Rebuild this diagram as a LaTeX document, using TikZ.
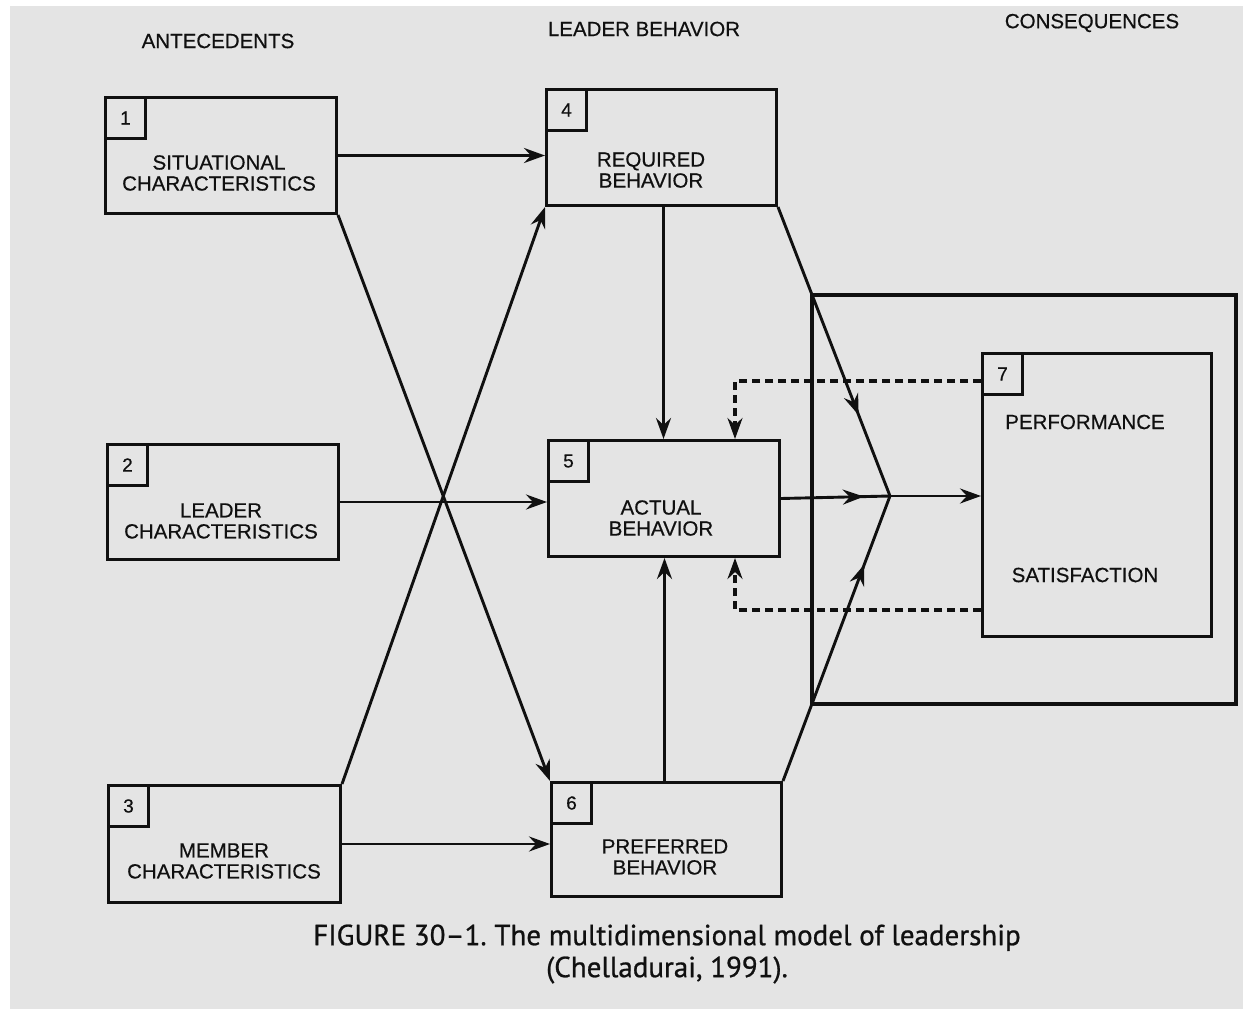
\documentclass[tikz,border=0pt]{standalone}
\usepackage{fontspec}
\setmainfont[FakeBold=0.5]{Liberation Sans}
\newfontfamily\capfont[FakeBold=0.8]{PT Sans}
\usetikzlibrary{arrows.meta,decorations.markings}

\definecolor{paper}{HTML}{E4E4E4}
\definecolor{ink}{HTML}{101010}

\tikzset{
  x=1pt, y=-1pt,
  every node/.style={text=ink},
  boxshape/.style={draw=ink, line width=3pt, rectangle, anchor=north west, inner sep=0pt},
  numbox/.style={boxshape, minimum width=40pt, minimum height=41pt, font=\fontsize{19}{19}\selectfont},
  lbl/.style={align=center, inner sep=0pt, font=\fontsize{20.5}{21}\selectfont},
  head/.style={inner sep=0pt, font=\fontsize{20.5}{21}\selectfont},
  conn/.style={draw=ink, line width=2.9pt},
  arr/.style={conn, -{Stealth[length=21pt, width=15pt, inset=7pt]}},
  midarr/.style={conn, postaction={decorate}, decoration={markings,
      mark=at position #1 with {\arrow{Stealth[length=21pt, width=15pt, inset=7pt]}}}},
  dsh/.style={conn, line width=3.2pt, dash pattern=on 8pt off 5pt,
      -{Stealth[length=21pt, width=15pt, inset=7pt]}},
}

\begin{document}
\begin{tikzpicture}
% page and paper
\fill[white] (0,0) rectangle (1243,1009);
\fill[paper] (10,6) rectangle (1243,1009);
\useasboundingbox (0,0) rectangle (1243,1009);

% column headings
\node[head] (hA) at (218,41) {ANTECEDENTS};
\node[head] (hL) at (644,29) {LEADER BEHAVIOR};
\node[head] (hC) at (1092,23) {CONSEQUENCES};

% consequences frame
\node[boxshape, line width=4.2pt, minimum width=424pt, minimum height=409pt] (frame) at (810,293) {};

% antecedent boxes
\node[boxshape, minimum width=231pt, minimum height=116pt] (b1) at (104,96) {};
\node[numbox] (n1) at (104,96) {1};
\node[lbl] (t1) at (219,173) {SITUATIONAL\\CHARACTERISTICS};

\node[boxshape, minimum width=231pt, minimum height=115pt] (b2) at (106,443) {};
\node[numbox] (n2) at (106,443) {2};
\node[lbl] (t2) at (221,521) {LEADER\\CHARACTERISTICS};

\node[boxshape, minimum width=232pt, minimum height=117pt] (b3) at (107,784) {};
\node[numbox] (n3) at (107,784) {3};
\node[lbl] (t3) at (224,861) {MEMBER\\CHARACTERISTICS};

% leader behaviour boxes
\node[boxshape, minimum width=230pt, minimum height=116pt] (b4) at (545,88) {};
\node[numbox] (n4) at (545,88) {4};
\node[lbl] (t4) at (651,170) {REQUIRED\\BEHAVIOR};

\node[boxshape, minimum width=231pt, minimum height=116pt] (b5) at (547,439) {};
\node[numbox] (n5) at (547,439) {5};
\node[lbl] (t5) at (661,518) {ACTUAL\\BEHAVIOR};

\node[boxshape, minimum width=230pt, minimum height=114pt] (b6) at (550,781) {};
\node[numbox] (n6) at (550,781) {6};
\node[lbl] (t6) at (665,857) {PREFERRED\\BEHAVIOR};

% consequences box
\node[boxshape, minimum width=229pt, minimum height=283pt] (b7) at (981,352) {};
\node[numbox] (n7) at (981,352) {7};
\node[head] (tp) at (1085,422) {PERFORMANCE};
\node[head] (ts) at (1085,575) {SATISFACTION};

% meeting point of the three behaviour lines
\coordinate (J) at (890,496);

% antecedents to leader behaviour
\draw[arr] (b1.east) -- (b1.east -| b4.west);
\draw[arr] (b2.east) -- (b2.east -| b5.west);
\draw[arr] (b3.east) -- (b3.east -| b6.west);
\draw[arr] (b1.south east) -- (b6.north west);
\draw[arr] (b3.north east) -- (b4.south west);

% required and preferred into actual
\draw[arr] ([xshift=2pt]b4.south) -- ([xshift=2pt]b4.south |- b5.north);
\draw[arr] ([xshift=-2pt]b6.north) -- ([xshift=-2pt]b6.north |- b5.south);

% behaviours converge on the consequences
\draw[midarr=0.72] (b4.south east) -- (J);
\draw[midarr=0.76] (b6.north east) -- (J);
\draw[midarr=0.76] (b5.east) -- (J);
\draw[arr] (J) -- (J -| b7.west);

% feedback loops
\draw[dsh] ([yshift=-29pt]b7.north west) -| ([xshift=188pt]b5.north west);
\draw[dsh] ([yshift=28pt]b7.south west) -| ([xshift=188pt]b5.south west);

% caption
\node[inner sep=0pt, font=\capfont\fontsize{29}{32}\selectfont, align=center] (cap) at (667,954)
  {FIGURE 30–1.\ The multidimensional model of leadership\\(Chelladurai, 1991).};
\end{tikzpicture}
\end{document}
